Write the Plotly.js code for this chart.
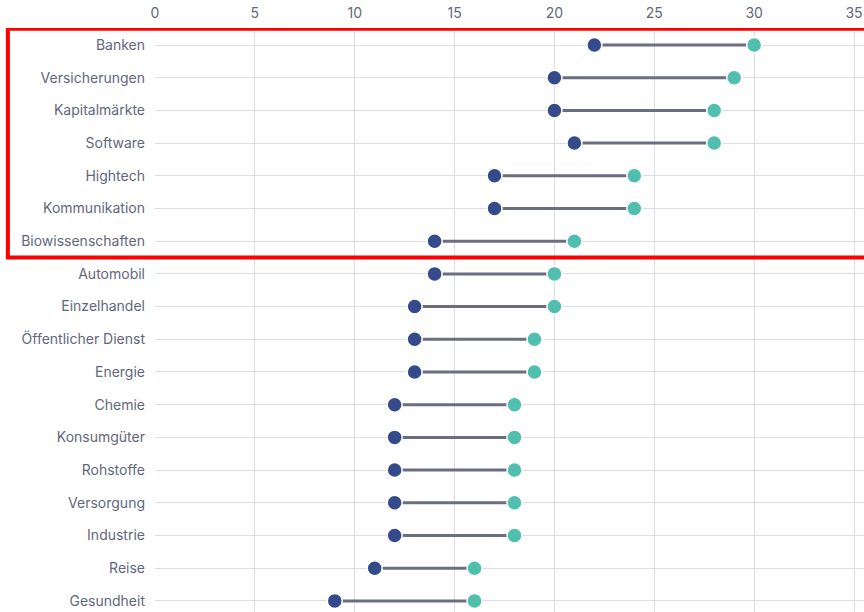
<!DOCTYPE html>
<html><head><meta charset="utf-8">
<script src="https://cdn.plot.ly/plotly-3.0.1.min.js"></script>
<style>html,body{margin:0;padding:0;background:#fff}</style>
</head><body>
<div id="chart" style="width:864px;height:612px"></div>
<script>
const categories = ["Banken","Versicherungen","Kapitalmärkte","Software","Hightech","Kommunikation","Biowissenschaften","Automobil","Einzelhandel","Öffentlicher Dienst","Energie","Chemie","Konsumgüter","Rohstoffe","Versorgung","Industrie","Reise","Gesundheit"];
const lowValues = [22,20,20,21,17,17,14,14,13,13,13,12,12,12,12,12,11,9];
const highValues = [30,29,28,28,24,24,21,20,20,19,19,18,18,18,18,18,16,16];
const xTicks = [0,5,10,15,20,25,30,35];

const lx = [], ly = [];
categories.forEach((c,i)=>{ lx.push(lowValues[i], highValues[i], null); ly.push(c, c, null); });

const traces = [
  {x: lx, y: ly, type:'scatter', mode:'lines', line:{color:'#6b6d80', width:3}, hoverinfo:'skip', showlegend:false},
  {x: lowValues, y: categories, type:'scatter', mode:'markers', marker:{color:'#344a8a', size:15, line:{color:'#ffffff', width:1.5}}, showlegend:false},
  {x: highValues, y: categories, type:'scatter', mode:'markers', marker:{color:'#50bfae', size:15, line:{color:'#ffffff', width:1.5}}, showlegend:false}
];

const layout = {
  width:864, height:612,
  margin:{l:155, r:0, t:28, b:0},
  paper_bgcolor:'#fff', plot_bgcolor:'#fff',
  font:{family:'Inter, "Open Sans", sans-serif', size:14, color:'#62677b'},
  xaxis:{side:'top', range:[0,35.5], tickvals:xTicks, ticktext:xTicks.map(String), showgrid:true, gridcolor:'#dcdce6', gridwidth:1, zeroline:false, showline:false, ticks:'', ticklabelstandoff:6, fixedrange:true, tickfont:{size:14, color:'#62677b'}},
  yaxis:{type:'category', categoryorder:'array', categoryarray:categories, range:[17.34,-0.52], showgrid:true, gridcolor:'#dcdce6', gridwidth:1, zeroline:false, showline:false, ticks:'', ticklabelstandoff:9, tickfont:{size:14, color:'#62677b'}},
  shapes:[{type:'rect', xref:'paper', yref:'y', x0:-0.2075, x1:1.02, y0:-0.5, y1:6.5, line:{color:'#ff0000', width:4}, fillcolor:'rgba(0,0,0,0)', layer:'above'}]
};
Plotly.newPlot('chart', traces, layout, {displayModeBar:false, staticPlot:true});
</script>
</body></html>
